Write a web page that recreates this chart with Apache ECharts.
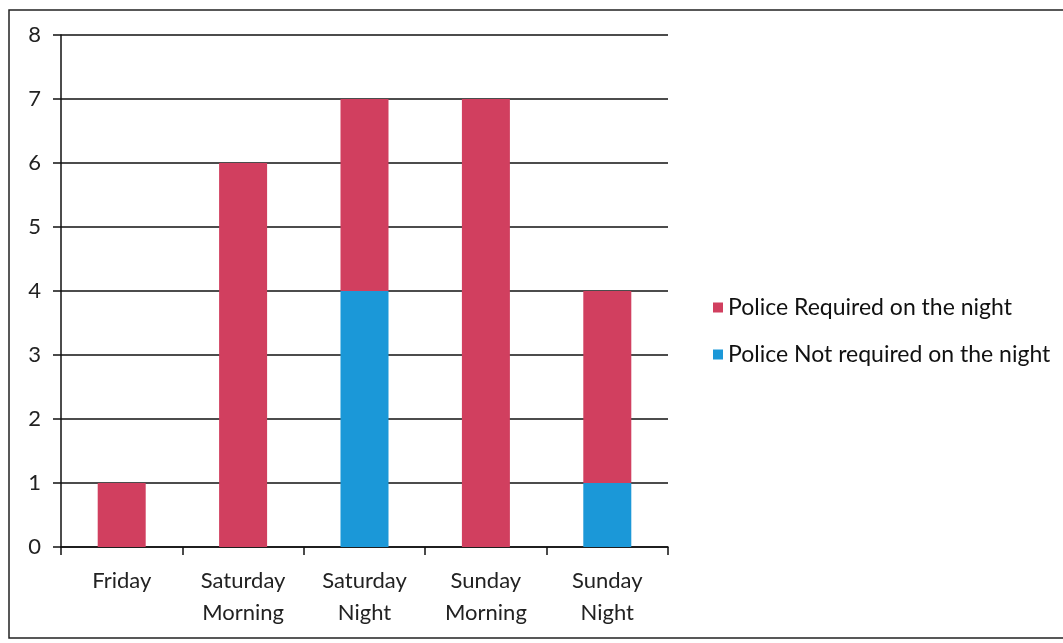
<!DOCTYPE html>
<html><head><meta charset="utf-8">
<script src="https://cdn.jsdelivr.net/npm/echarts@6/dist/echarts.min.js"></script>
<style>html,body{margin:0;padding:0;background:#fff}#c{width:1063px;height:643px}</style>
</head><body><div id="c"></div>
<script>
const categories = ['Friday', 'Saturday\nMorning', 'Saturday\nNight', 'Sunday\nMorning', 'Sunday\nNight'];
const policeRequired = [1, 6, 3, 7, 3];
const policeNotRequired = [0, 0, 4, 0, 1];
const seriesNames = ['Police Required on the night', 'Police Not required on the night'];
const yTicks = [0, 1, 2, 3, 4, 5, 6, 7, 8];

const chart = echarts.init(document.getElementById('c'));
const font = 'Lato, "Open Sans", sans-serif';
chart.setOption({
  animation: false,
  textStyle: {fontFamily: font},
  graphic: [{type: 'rect', shape: {x: 9, y: 10, width: 1070, height: 628}, style: {fill: 'none', stroke: '#222', lineWidth: 1.5}, silent: true}],
  grid: {left: 61, right: 395, top: 35, bottom: 96},
  legend: {
    orient: 'vertical', left: 708, top: 291, itemGap: 24, itemWidth: 10, itemHeight: 10, icon: 'rect',
    data: seriesNames,
    textStyle: {fontSize: 23, color: '#111', fontFamily: font}
  },
  xAxis: {
    type: 'category', data: categories,
    axisLine: {lineStyle: {color: '#111', width: 1.5}},
    axisTick: {show: true, length: 8, lineStyle: {color: '#111', width: 1.5}},
    axisLabel: {fontSize: 22, color: '#222', margin: 18, lineHeight: 32, fontFamily: font}
  },
  yAxis: {
    type: 'value', min: yTicks[0], max: yTicks[yTicks.length - 1], interval: 1,
    axisLine: {show: true, lineStyle: {color: '#111', width: 1.5}},
    axisTick: {show: true, length: 8, lineStyle: {color: '#111', width: 1.5}},
    axisLabel: {fontSize: 22, color: '#222', margin: 20, fontFamily: font},
    splitLine: {lineStyle: {color: '#111', width: 1.5}}
  },
  series: [
    {name: seriesNames[1], type: 'bar', stack: 's', data: policeNotRequired, barWidth: 48, itemStyle: {color: '#1b98d8'}},
    {name: seriesNames[0], type: 'bar', stack: 's', data: policeRequired, barWidth: 48, itemStyle: {color: '#d13f5f'}}
  ]
});
</script></body></html>
